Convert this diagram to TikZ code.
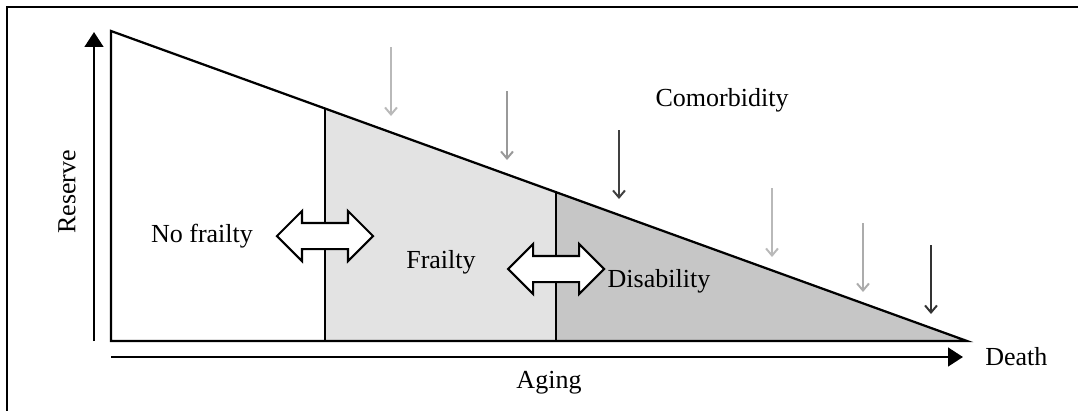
\documentclass[tikz,border=0pt]{standalone}
\usepackage{fontspec}
\setmainfont{Liberation Serif}
\usetikzlibrary{arrows.meta,calc,shapes.arrows}

\tikzset{
	label/.style={inner sep=0pt,font=\fontsize{18.5}{21}\selectfont},
	axis/.style={line width=2pt,-{Triangle[length=10.5pt,width=13pt]}},
	shiftarrow/.style={double arrow,draw,fill=white,line width=1.5pt,inner xsep=0pt,inner ysep=0.3cm,
		minimum height=2.4cm,minimum width=1.2cm,double arrow head extend=0.3cm},
	hit/.style={line width=1.4pt,-{Straight Barb[length=5pt,width=8.5pt]}}
}

\begin{document}
\begin{tikzpicture}[x=0.025cm,y=-0.025cm]
	\useasboundingbox (0,0) rectangle (1078,410);
	\draw[line width=2pt] (7,412) -- (7,7) -- (1080,7);
	\path
	(111,31) coordinate (T)
	(111,341) coordinate (O)
	(967,341) coordinate (E)
	($(T)!0.25!(E)$) coordinate (P)
	($(T)!0.52!(E)$) coordinate (Q)
	(94,341) coordinate (Y0)
	(94,32) coordinate (Y1)
	(111,357) coordinate (X0)
	(963,357) coordinate (X1)
	;
	% stages
	\fill[gray!22] (P) -- (Q) -- (Q |- O) -- (P |- O) -- cycle;
	\fill[gray!45] (Q) -- (E) -- (Q |- O) -- cycle;
	\draw[line width=1.6pt] (T) -- (E) -- (O) -- cycle;
	\draw[line width=1.6pt] (P) -- (P |- O);
	\draw[line width=1.6pt] (Q) -- (Q |- O);
	% axes
	\draw[axis] (Y0) -- (Y1);
	\draw[axis] (X0) -- (X1);
	\node[label,rotate=90] (reserve) at (67,192) {Reserve};
	\node[label] (aging) at (549,383) {Aging};
	\node[label,anchor=west] (death) at (985,357) {Death};
	% regions
	\node[label] (nofrailty) at (202,236) {No frailty};
	\node[label] (frailty) at (441,262) {Frailty};
	\node[label] (disability) at (659,281) {Disability};
	\node[shiftarrow] (arrowA) at (P |- 0,236) {};
	\node[shiftarrow] (arrowB) at (Q |- 0,269) {};
	% comorbidity
	\node[label] (comorbidity) at (722,100) {Comorbidity};
	\foreach \x/\y/\c in {391/47/gray!55,507/91/gray!80,619/130/black!75,772/188/gray!55,863/223/gray!65,931/245/black!80}
	\draw[hit,\c] (\x,\y) -- ++(0,69);
\end{tikzpicture}
\end{document}
